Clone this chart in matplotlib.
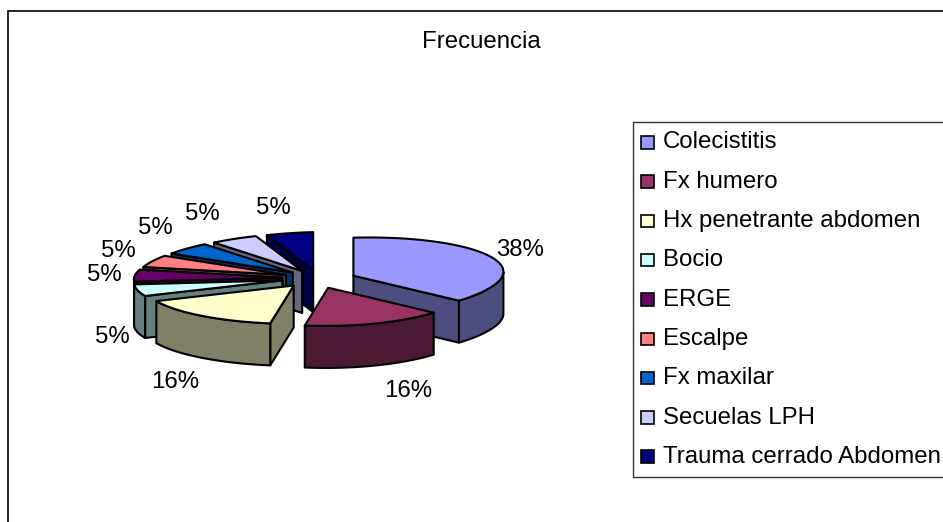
import numpy as np
import matplotlib
matplotlib.use('Agg')
import matplotlib.pyplot as plt
from matplotlib.patches import Polygon, Rectangle

plt.rcParams['font.family'] = ['Liberation Sans', 'DejaVu Sans']

title = 'Frecuencia'
categories = ['Colecistitis', 'Fx humero', 'Hx penetrante abdomen', 'Bocio', 'ERGE',
              'Escalpe', 'Fx maxilar', 'Secuelas LPH', 'Trauma cerrado Abdomen']
values = [38, 16, 16, 5, 5, 5, 5, 5, 5]
top_colors = ['#9999FF', '#993366', '#FFFFCC', '#CCFFFF', '#660066',
              '#FF8080', '#0066CC', '#CCCCFF', '#000080']
side_colors = ['#4D4D80', '#4D1A33', '#808066', '#668080', '#330033',
               '#804040', '#003366', '#666680', '#000040']

# label centres in pixels, Excel moved them around so they are not on a radius
label_x = [520, 408, 175, 112, 104, 118, 155, 202, 273]
label_y = [250, 391, 382, 337, 275, 251, 228, 214, 208]

# pie geometry in pixels
cx, cy = 319, 279
rx, ry = 150, 38
ex, ey = 37, 9
skew_x, skew_y = 14, 4
depth = 42

fig = plt.figure(figsize=(9.43, 5.22), dpi=100)
ax = fig.add_axes([0, 0, 1, 1])
ax.set_xlim(0, 943)
ax.set_ylim(522, 0)
ax.axis('off')

# chart frame runs off the picture on the right and bottom
ax.add_patch(Rectangle((7.5, 10.5), 960, 540, fc='white', ec='black', lw=1.2))
ax.text(481.5, 42.5, title, fontsize=17.3, ha='center', va='center')

vals = np.array(values, dtype=float)
edges = np.concatenate([[0], np.cumsum(vals) / vals.sum() * 2 * np.pi])
mids = (edges[:-1] + edges[1:]) / 2


def side_quad(pts, fc):
    pts = np.array(pts)
    low = pts[::-1] + [0, depth]
    ax.add_patch(Polygon(np.vstack([pts, low]), closed=True, fc=fc, ec='black', lw=1.5, joinstyle='round'))


# back slices first
for i in np.argsort(-np.cos(mids)):
    a1, a2 = edges[i], edges[i + 1]
    ox = cx + ex * np.sin(mids[i])
    oy = cy - ey * np.cos(mids[i])
    t = np.linspace(a1, a2, 60)
    # the front of the pie leans a bit to the right in the 3D view
    lean = np.clip(np.cos(t - np.radians(200)), 0, None) ** 2
    arc = np.column_stack([ox + rx * np.sin(t) + skew_x * lean,
                           oy - ry * np.cos(t) - skew_y * np.sin(t)])

    if np.sin(a1) < 0:
        side_quad([[ox, oy], arc[0]], side_colors[i])
    if np.sin(a2) > 0:
        side_quad([[ox, oy], arc[-1]], side_colors[i])
    front = np.cos(t) < 0
    if front.any():
        side_quad(arc[front], side_colors[i])
    ax.add_patch(Polygon(np.vstack([[ox, oy], arc]), closed=True, fc=top_colors[i],
                         ec='black', lw=1.5, joinstyle='round'))

for v, x, y in zip(vals, label_x, label_y):
    ax.text(x, y, '%d%%' % round(v / vals.sum() * 100), fontsize=17.3, ha='center', va='center')

# legend
ax.add_patch(Rectangle((632.5, 121.5), 400, 355, fc='white', ec='#333333', lw=1))
for i, name in enumerate(categories):
    y = 141.5 + i * 39.3
    ax.add_patch(Rectangle((641, y - 5.5), 12.5, 12.5, fc=top_colors[i], ec='black', lw=1.2))
    ax.text(663, y + 1, name, fontsize=17.3, ha='left', va='center')

fig.savefig('out.png', dpi=100)
